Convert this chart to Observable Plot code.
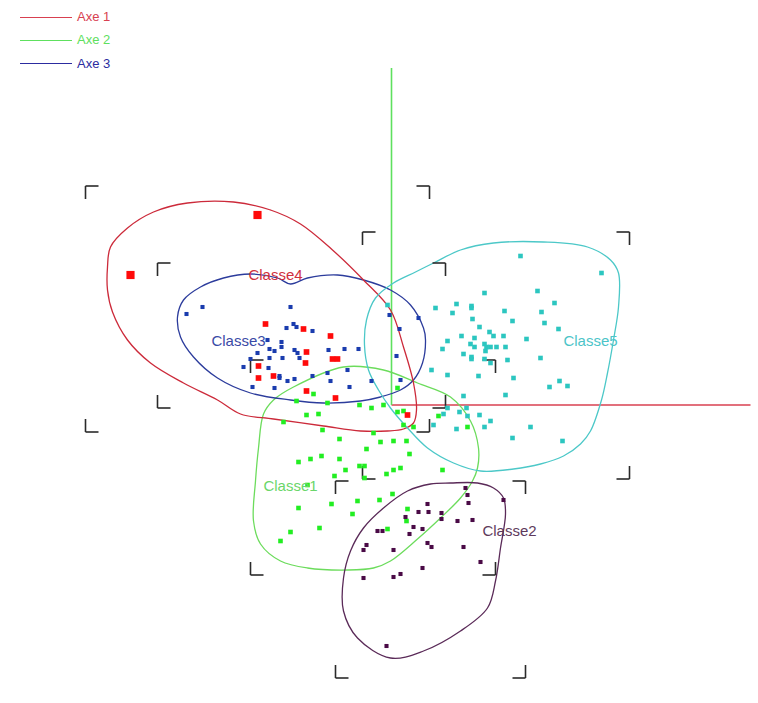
<!DOCTYPE html>
<html><head><meta charset="utf-8">
<script src="https://cdn.jsdelivr.net/npm/d3@7"></script>
<script src="https://cdn.jsdelivr.net/npm/@observablehq/plot@0.6"></script>
<style>
body{margin:0;background:#fff;font-family:"Liberation Sans",Arial,sans-serif;}
#wrap{position:relative;width:758px;height:703px;}
#legend{position:absolute;left:0;top:0;width:200px;height:80px;}
.row{position:absolute;left:20px;height:16px;line-height:16px;display:flex;align-items:center;font-size:13px;white-space:nowrap;width:150px;}
.row .l{display:inline-block;width:52px;height:0;border-top:1px solid;margin-right:5px;flex:none;}
</style></head><body><div id="wrap"><div id="legend"></div></div>
<script>
// ---------- data (factor-plane coordinates) ----------
const classNames = ["Classe1","Classe2","Classe3","Classe4","Classe5"];
const legendLabels = ["Axe 1","Axe 2","Axe 3"];
const axisEnds = [[3.59,0],[0,3.37],[0,0]];

const class1Points = [[-0.78,0.11],[-0.95,0.04],[-0.64,0.02],[-0.32,0.00],[-0.20,-0.03],[-0.08,0.00],[0.06,0.17],[0.06,-0.07],[0.12,-0.06],[-0.85,-0.10],[-0.73,-0.09],[-1.08,-0.17],[-0.69,-0.25],[-0.18,-0.28],[0.12,-0.20],[0.22,-0.22],[-0.52,-0.34],[-0.11,-0.37],[0.02,-0.36],[0.15,-0.36],[-0.25,-0.44],[0.18,-0.49],[-0.70,-0.51],[-0.81,-0.54],[-0.93,-0.57],[-0.52,-0.54],[-0.32,-0.61],[-0.27,-0.61],[-0.46,-0.65],[-0.57,-0.71],[0.02,-0.65],[0.09,-0.63],[-0.05,-0.69],[0.51,-0.65],[-0.27,-0.73],[-0.84,-0.80],[-0.34,-0.96],[-0.12,-0.95],[0.01,-0.89],[-0.60,-0.99],[-0.93,-1.03],[-0.39,-1.09],[0.16,-1.04],[0.15,-1.16],[-1.01,-1.27],[-1.11,-1.36],[-0.72,-1.23],[-0.04,-1.24],[0.47,-0.11],[0.76,-0.22]];
const class2Points = [[0.74,-0.83],[0.76,-0.90],[0.77,-0.98],[1.12,-0.95],[0.36,-0.99],[0.27,-1.07],[0.37,-1.07],[0.50,-1.08],[0.50,-1.14],[0.66,-1.16],[0.81,-1.15],[0.14,-1.12],[0.22,-1.22],[0.31,-1.24],[-0.14,-1.26],[-0.09,-1.26],[0.18,-1.29],[0.36,-1.38],[0.40,-1.42],[-0.25,-1.40],[-0.28,-1.45],[0.02,-1.45],[0.72,-1.42],[0.89,-1.57],[0.31,-1.63],[-0.28,-1.73],[0.02,-1.72],[0.09,-1.69],[-0.05,-2.41]];
const class3Points = [[-1.89,0.98],[-2.05,0.91],[-1.01,0.98],[-0.98,0.81],[-0.95,0.78],[-1.05,0.77],[-0.79,0.74],[-1.10,0.63],[-1.10,0.58],[-1.24,0.65],[-1.22,0.56],[-1.17,0.54],[-0.97,0.55],[-0.94,0.52],[-0.63,0.55],[-0.47,0.56],[-0.33,0.56],[-1.34,0.52],[-1.41,0.46],[-1.09,0.47],[-1.22,0.47],[-0.92,0.47],[-1.48,0.38],[-1.23,0.37],[-1.12,0.29],[-1.12,0.27],[-1.04,0.24],[-0.97,0.26],[-0.79,0.29],[-0.64,0.32],[-0.44,0.35],[-0.61,0.24],[-0.42,0.18],[-0.20,0.24],[-1.39,0.18],[-1.17,0.17],[-0.02,0.90],[0.08,0.76],[0.05,0.49],[0.27,0.87],[0.09,0.25]];
const class4Points = [[-1.26,0.81],[-0.88,0.76],[-0.61,0.69],[-0.85,0.53],[-0.86,0.42],[-0.59,0.46],[-0.54,0.46],[-1.33,0.39],[-1.33,0.27],[-1.18,0.29],[-0.85,0.14],[-0.56,0.07],[0.16,-0.10]];
const class4Outliers = [[-1.34,1.90],[-2.61,1.30]];
const class5Points = [[1.29,1.49],[2.10,1.32],[1.46,1.14],[0.93,1.12],[1.63,1.02],[0.65,1.01],[0.80,0.99],[0.80,0.97],[0.44,0.97],[1.13,0.94],[1.50,0.93],[0.61,0.92],[0.81,0.86],[1.21,0.84],[1.53,0.82],[0.88,0.78],[1.67,0.76],[0.98,0.73],[1.02,0.69],[1.12,0.69],[0.70,0.69],[0.83,0.67],[1.35,0.66],[0.56,0.64],[0.79,0.61],[0.83,0.58],[0.93,0.61],[0.95,0.58],[0.99,0.58],[1.05,0.58],[1.14,0.58],[0.51,0.56],[0.94,0.54],[0.72,0.51],[0.80,0.48],[0.80,0.46],[0.93,0.46],[0.99,0.42],[1.16,0.45],[1.49,0.47],[0.40,0.35],[0.56,0.30],[0.87,0.29],[1.22,0.27],[1.68,0.24],[1.76,0.19],[1.58,0.18],[1.14,0.10],[0.72,0.09],[-0.04,1.00],[0.56,-0.03],[0.75,-0.03],[0.52,-0.09],[0.68,-0.07],[0.76,-0.11],[0.88,-0.10],[0.99,-0.16],[0.42,-0.20],[0.65,-0.24],[0.93,-0.22],[1.39,-0.22],[1.21,-0.33],[1.71,-0.36]];

const class1Hull = [[-0.98,0.18],[-0.48,0.38],[-0.08,0.35],[0.26,0.22],[0.59,0.08],[0.79,-0.16],[0.87,-0.43],[0.86,-0.63],[0.81,-0.76],[0.69,-0.93],[0.49,-1.13],[0.26,-1.34],[-0.01,-1.56],[-0.18,-1.63],[-0.44,-1.65],[-0.84,-1.63],[-1.11,-1.56],[-1.31,-1.39],[-1.38,-1.16],[-1.36,-0.76],[-1.33,-0.43],[-1.28,-0.09],[-1.18,0.05]];
const class2Hull = [[0.59,-0.78],[0.86,-0.78],[1.02,-0.83],[1.12,-0.93],[1.14,-1.09],[1.09,-1.43],[1.04,-1.76],[0.96,-2.03],[0.69,-2.26],[0.32,-2.46],[-0.01,-2.53],[-0.34,-2.33],[-0.48,-2.06],[-0.48,-1.73],[-0.41,-1.46],[-0.28,-1.23],[-0.08,-1.03],[0.16,-0.86],[0.39,-0.79]];
const class3Hull = [[-2.14,0.88],[-2.08,1.05],[-1.91,1.18],[-1.68,1.27],[-1.41,1.31],[-1.14,1.27],[-1.01,1.21],[-0.84,1.27],[-0.54,1.30],[-0.28,1.25],[-0.01,1.15],[0.19,1.00],[0.32,0.77],[0.34,0.65],[0.31,0.42],[0.22,0.25],[0.09,0.15],[-0.11,0.08],[-0.31,0.04],[-0.68,0.02],[-1.01,0.05],[-1.41,0.12],[-1.74,0.27],[-1.98,0.48],[-2.11,0.68]];
const class4Hull = [[-1.58,2.03],[-1.21,1.95],[-0.91,1.81],[-0.59,1.55],[-0.28,1.25],[-0.01,0.95],[0.12,0.58],[0.22,0.22],[0.25,-0.05],[0.22,-0.18],[0.12,-0.24],[-0.04,-0.26],[-0.31,-0.26],[-0.68,-0.21],[-1.18,-0.14],[-1.51,-0.09],[-1.74,0.05],[-2.08,0.22],[-2.41,0.42],[-2.64,0.65],[-2.79,0.93],[-2.84,1.15],[-2.84,1.38],[-2.81,1.58],[-2.64,1.77],[-2.38,1.93],[-2.04,2.02]];
const class5Hull = [[0.69,1.55],[1.02,1.62],[1.52,1.63],[1.96,1.58],[2.19,1.45],[2.27,1.32],[2.27,0.98],[2.22,0.65],[2.16,0.32],[2.10,0.05],[1.99,-0.26],[1.89,-0.39],[1.72,-0.51],[1.49,-0.59],[1.22,-0.64],[0.89,-0.66],[0.62,-0.58],[0.36,-0.43],[0.16,-0.23],[-0.01,-0.03],[-0.13,0.15],[-0.23,0.35],[-0.27,0.60],[-0.25,0.85],[-0.16,1.07],[0.02,1.22],[0.24,1.33],[0.42,1.42]];

// bounding boxes [xmin, xmax, ymin, ymax]
const class1Box = [-1.41,1.04,-1.70,0.45];
const class2Box = [-0.56,1.34,-2.73,-0.76];
const class3Box = [-2.34,0.54,-0.03,1.42];
const class4Box = [-3.06,0.38,-0.27,2.19];
const class5Box = [-0.29,2.38,-0.74,1.73];

const labelPositions = [[-1.01,-0.81],[1.18,-1.26],[-1.53,0.64],[-1.16,1.30],[1.99,0.64]];

// ---------- styling ----------
const hullColors  = ["#6cdc5c","#5a2a58","#2c3c9c","#cc2a3a","#4cc8c8"];
const pointColors = ["#22ee22","#4a0a46","#1a3cae","#ff0a0a","#2cc6c0"];
const pointR      = [2.6, 2.3, 2.3, 3.2, 2.6];
const labelColors = ["#6ad66a","#5e3a5c","#3a4aa6","#d0303e","#4cc4c8"];
const axisColors  = ["#d84050","#5ee05e","#2c2ca0"];
const ARM = 0.13;

const W = 758, H = 703;
const xDomain = [-3.91, 3.67], yDomain = [-2.985, 4.045];

function bracketSegs(box){
  const [x0,x1,y0,y1] = box;
  return [[x0,y1,x0+ARM,y1],[x0,y1,x0,y1-ARM],[x1,y1,x1-ARM,y1],[x1,y1,x1,y1-ARM],
          [x0,y0,x0+ARM,y0],[x0,y0,x0,y0+ARM],[x1,y0,x1-ARM,y0],[x1,y0,x1,y0+ARM]];
}
const boxes = [class1Box,class2Box,class3Box,class4Box,class5Box];
const hulls = [class1Hull,class2Hull,class3Hull,class4Hull,class5Hull];
const points = [class1Points,class2Points,class3Points,class4Points,class5Points];
const segs = boxes.flatMap(bracketSegs);
const axes = axisEnds.map((e,i)=>({x2:e[0],y2:e[1],c:axisColors[i]}));

const marks = [];
marks.push(Plot.link(axes.slice(0,2),{x1:0,y1:0,x2:"x2",y2:"y2",stroke:d=>d.c,strokeWidth:1.6}));
hulls.forEach((h,i)=>marks.push(Plot.line(h,{x:d=>d[0],y:d=>d[1],curve:"catmull-rom-closed",stroke:hullColors[i],strokeWidth:1.3})));
marks.push(Plot.link(segs,{x1:d=>d[0],y1:d=>d[1],x2:d=>d[2],y2:d=>d[3],stroke:"#2a2a2a",strokeWidth:1.6}));
points.forEach((p,i)=>marks.push(Plot.dot(p,{x:d=>d[0],y:d=>d[1],symbol:"square",r:pointR[i],fill:pointColors[i],stroke:"none"})));
marks.push(Plot.dot(class4Outliers,{x:d=>d[0],y:d=>d[1],symbol:"square",r:4.6,fill:pointColors[3],stroke:"none"}));
marks.push(Plot.text(labelPositions.map((p,i)=>({x:p[0],y:p[1],t:classNames[i],c:labelColors[i]})),
  {x:"x",y:"y",text:"t",fill:d=>d.c,fontSize:15,fontFamily:"Liberation Sans, Arial, sans-serif"}));

const chart = Plot.plot({
  width:W,height:H,margin:0,
  x:{domain:xDomain,axis:null},
  y:{domain:yDomain,axis:null},
  style:{background:"#fff"},
  marks
});
document.getElementById("wrap").prepend(chart);

const leg = document.getElementById("legend");
legendLabels.forEach((t,i)=>{
  const r = document.createElement("div");
  r.className="row";
  r.style.top = (9 + i*23.3)+"px";
  r.style.color = axisColors[i];
  r.innerHTML = `<span class="l" style="border-color:${axisColors[i]}"></span>${t}`;
  leg.appendChild(r);
});
</script></body></html>
